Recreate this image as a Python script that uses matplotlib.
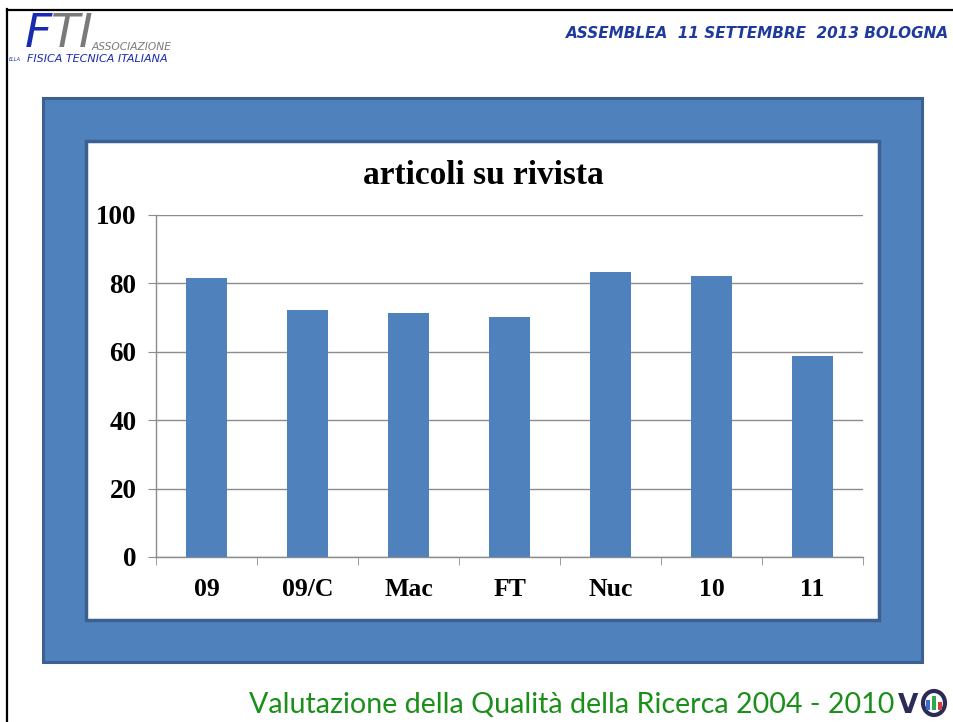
import matplotlib
matplotlib.use("Agg")
import matplotlib.pyplot as plt
from matplotlib.patches import Rectangle, Ellipse
from matplotlib.lines import Line2D
import numpy as np

# data
categories = ["09", "09/C", "Mac", "FT", "Nuc", "10", "11"]
articoli = [81.7, 72.2, 71.3, 70.2, 83.4, 82.3, 58.8]
y_ticks = [0, 20, 40, 60, 80, 100]

title = "articoli su rivista"
header = "ASSEMBLEA  11 SETTEMBRE  2013 BOLOGNA"
footer = "Valutazione della Qualità della Ricerca 2004 - 2010"

W, H = 954, 722
fig = plt.figure(figsize=(W / 100, H / 100), dpi=100)


def fx(x):
    return x / W


def fy(y):
    return 1 - y / H


def rect(x0, y0, x1, y1, **kw):
    r = Rectangle((fx(x0), fy(y1)), (x1 - x0) / W, (y1 - y0) / H,
                  transform=fig.transFigure, **kw)
    fig.add_artist(r)
    return r


# slide border
fig.add_artist(Line2D([fx(7.5), fx(7.5)], [fy(9), fy(722)], color="black",
                      lw=1.6, transform=fig.transFigure))
fig.add_artist(Line2D([fx(7), fx(954)], [fy(9.5), fy(9.5)], color="black",
                      lw=1.6, transform=fig.transFigure))

# blue frame around the chart
blue = "#4F81BD"
dark = "#3B6091"
rect(43, 98, 922, 662, facecolor=blue, edgecolor=dark, lw=2.2, zorder=1)
rect(86, 141, 879, 620, facecolor="white", edgecolor=dark, lw=2.5, zorder=1)

# chart axes
ax = fig.add_axes([fx(156), fy(557), (863 - 156) / W, (557 - 215) / H])
ax.set_zorder(5)
ax.patch.set_alpha(0)
x = np.arange(len(categories))
ax.bar(x, articoli, width=0.4, color=blue, zorder=3)
ax.set_xlim(-0.5, len(categories) - 0.5)
ax.set_ylim(0, 100)
ax.set_yticks(y_ticks)
ax.yaxis.grid(True, color="#8C8C8C", lw=1.0)
ax.set_axisbelow(True)
for s in ["top", "right"]:
    ax.spines[s].set_visible(False)
for s in ["left", "bottom"]:
    ax.spines[s].set_color("#8C8C8C")
    ax.spines[s].set_linewidth(1.0)

serif = ["Liberation Serif", "DejaVu Serif"]
ax.set_xticks(x)
ax.set_xticklabels(categories, fontfamily=serif, fontweight="bold",
                   fontsize=18.5)
ax.set_xticks(np.arange(len(categories) + 1) - 0.5, minor=True)
ax.tick_params(axis="x", which="major", length=0, pad=15)
ax.tick_params(axis="x", which="minor", length=6, color="#8C8C8C",
               direction="out")
ax.tick_params(axis="y", length=6, color="#8C8C8C", pad=8)
for lab in ax.get_yticklabels():
    lab.set_fontfamily(serif)
    lab.set_fontweight("bold")
    lab.set_fontsize(19.5)

fig.text(fx(483), fy(176), title, ha="center", va="center",
         fontfamily=serif, fontweight="bold", fontsize=24)

# header
fig.text(fx(949), fy(33), header, ha="right", va="center",
         fontfamily="DejaVu Sans", fontweight="bold", style="italic",
         fontsize=11, color="#1F3A9E")

# FTI logo
fig.text(fx(25), fy(47), "F", ha="left", va="baseline", fontsize=34,
         style="italic", color="#1A2AB0", fontfamily="DejaVu Sans")
fig.text(fx(51), fy(47), "TI", ha="left", va="baseline", fontsize=34,
         style="italic", color="#7A7A7A", fontfamily="DejaVu Sans")
fig.text(fx(92), fy(50), "ASSOCIAZIONE", ha="left", va="baseline",
         fontsize=7.7, style="italic", color="#7A7A7A",
         fontfamily="DejaVu Sans")
fig.text(fx(9), fy(61), "ELLA", ha="left", va="baseline", fontsize=3.5,
         style="italic", color="#1A2AB0", fontfamily="DejaVu Sans")
fig.text(fx(27), fy(62), "FISICA TECNICA ITALIANA", ha="left",
         va="baseline", fontsize=8, style="italic", color="#1A2AB0",
         fontfamily="DejaVu Sans")

# footer
fig.text(fx(249), fy(713), footer, ha="left", va="baseline",
         fontfamily="Lato", fontsize=20.6, color="#1A8F1A")
fig.text(fx(898), fy(713), "V", ha="left", va="baseline",
         fontfamily="DejaVu Sans", fontweight="bold", fontsize=19,
         color="#2B2B55")
fig.add_artist(Ellipse((fx(934), fy(703)), 22 / W, 24 / H, fill=False,
                       edgecolor="#2B2B55", lw=3, transform=fig.transFigure))
for bx, bh, bc in [(928, 10, "#3A6FD0"), (934, 14, "#2FA84F"),
                   (940, 8, "#D04040")]:
    rect(bx - 2, 710 - bh, bx + 2, 710, facecolor=bc, edgecolor="none")

fig.savefig("out.png", dpi=100)
